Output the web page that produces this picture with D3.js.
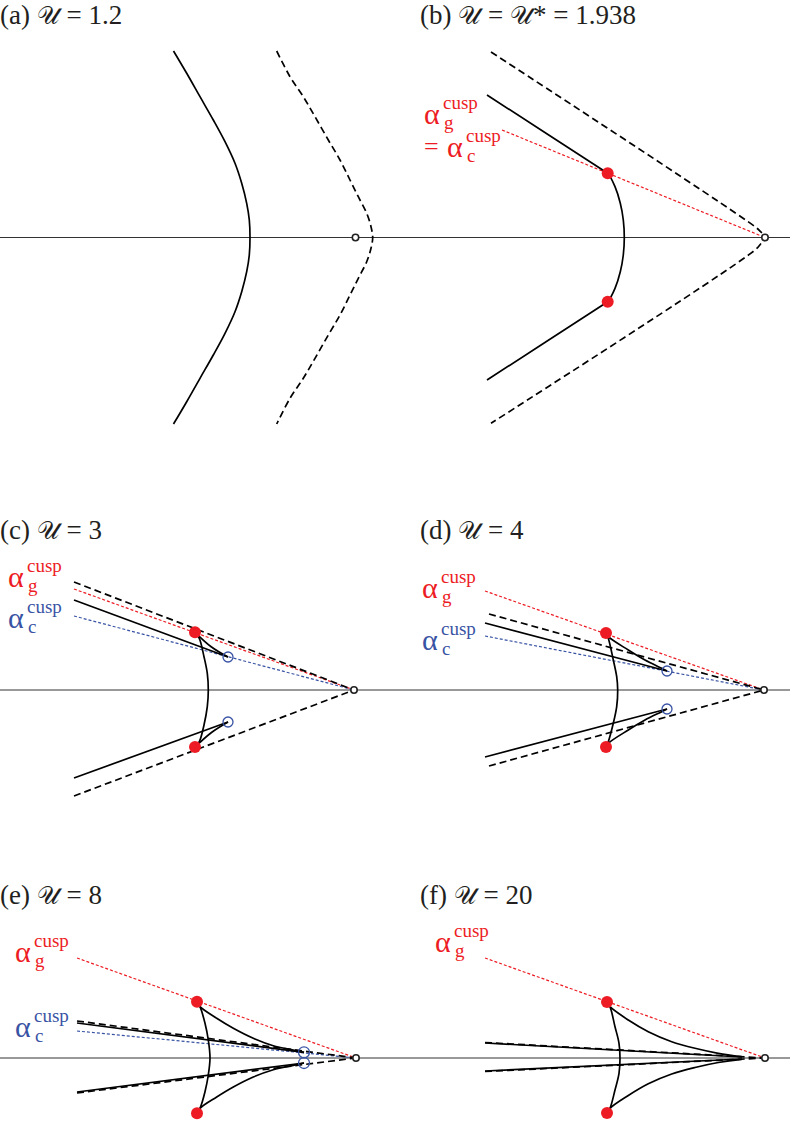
<!doctype html>
<html>
  <head>
    <meta charset="utf-8">
    <title>cusp wavefronts</title>
    <script src="https://d3js.org/d3.v7.min.js"></script>
    <style type="text/css">
      body { margin: 0; background-color: #ffffff; }
    </style>
  </head>
  <body>
    <script>
// panel titles
var titles = ["(a) \u{1D4B0} = 1.2", "(b) \u{1D4B0} = \u{1D4B0}* = 1.938", "(c) \u{1D4B0} = 3",
              "(d) \u{1D4B0} = 4", "(e) \u{1D4B0} = 8", "(f) \u{1D4B0} = 20"];

// all points: x, y relative to the source point (small circle), y up

// (a) U = 1.2
var aSolid = [[-182,186.5],[-168.8,164.2],[-155.5,140.8],[-142.2,117.5],[-130.5,95.8],[-120.5,74.2],[-113.8,54.2],[-108.8,34.2],[-106.2,17.5],[-105.5,0],
              [-106.2,-17.5],[-108.8,-34.2],[-113.8,-54.2],[-120.5,-74.2],[-130.5,-95.8],[-142.2,-117.5],[-155.5,-140.8],[-168.8,-164.2],[-182,-186.5]];
var aDashed = [[-78.8,186.5],[-65.5,160.8],[-52.2,140.8],[-40.5,120.8],[-27.2,97.5],[-15.5,77.5],[-5.5,57.5],[2.8,40.8],[11.2,24.2],[15.5,10.8],[17.2,0],
               [15.5,-10.8],[11.2,-24.2],[2.8,-40.8],[-5.5,-57.5],[-15.5,-77.5],[-27.2,-97.5],[-40.5,-120.8],[-52.2,-140.8],[-65.5,-160.8],[-78.8,-186.5]];

// (b) U = U* = 1.938
var bDashed = [[-274,185.5],[-10,10.8],[-3.5,5],[1.7,0],[-3.5,-5.5],[-10,-12.5],[-274,-185.8]];
var bSolid = [[-278,142.5],[-160,66],[-157.3,64.2],[-150,50.8],[-144.7,34.2],[-141.7,17.5],[-140.7,0],
              [-141.7,-17.5],[-144.7,-34.2],[-150,-50.8],[-157.3,-64.2],[-160,-66],[-278,-142.5]];
var bRedRay = [[-263,107.5],[0,0]];
var bRed = [[-157.3,64.2],[-157.3,-64.2]];

// (c) U = 3
var cDashed = [[[-280,108],[0,0]],[[-280,-106],[0,0]]];
var cRedRay = [[-280,101],[0,0]];
var cBlueRay = [[-280,74],[0,0]];
var cLines = [[[-280,90],[-126,33]],[[-126,-32],[-280,-88]]];
var cCusps = [[[-126,33],[-142.5,43],[-159,57.7]],[[-126,-32],[-142.5,-42.5],[-159,-57]]];
var cArc = [[-159,57.7],[-154.7,51.7],[-150,33.3],[-146.7,16.7],[-145.7,0],[-146.7,-16.7],[-150,-35],[-154.7,-51.7],[-159,-57]];
var cRed = [[-159,57.7],[-159,-57]];
var cBlue = [[-126,33],[-126,-32]];

// (d) U = 4
var dDashed = [[[-275,76],[0,0]],[[-275,-76],[0,0]]];
var dRedRay = [[-279,99],[0,0]];
var dBlueRay = [[-279,54],[0,0]];
var dLines = [[[-279,67],[-97,19]],[[-97,-19],[-279,-67]]];
var dCusps = [[[-97,19],[-102.3,21.7],[-119,30],[-135.7,40],[-155.7,53.3],[-158,57]],
              [[-97,-19],[-102.3,-21.7],[-119,-30],[-135.7,-40],[-155.7,-53.3],[-158,-57]]];
var dArc = [[-158,57],[-155.7,51.7],[-150.7,30],[-147.3,13.3],[-146.3,0],[-147.3,-16.7],[-150.7,-33.3],[-155.7,-51.7],[-158,-57]];
var dRed = [[-158,57],[-158,-57]];
var dBlue = [[-97,19],[-97,-19]];

// (e) U = 8
var eDashed = [[[-279,37],[0,0]],[[-279,-35],[0,0]]];
var eRedRay = [[-279,100],[0,0]];
var eBlueRay = [[-279,27],[0,0]];
var eLines = [[[-279,35],[-52,5.7]],[[-52,-5],[-279,-34]]];
var eCusps = [[[-159,56.3],[-156,51.3],[-139.3,39.7],[-122.7,29.7],[-102.7,19.7],[-82.7,12.3],[-62.7,8],[-52,5.7]],
              [[-159,-55.3],[-156,-50.3],[-139.3,-39],[-122.7,-29],[-102.7,-19],[-82.7,-11.7],[-62.7,-7.3],[-52,-5]]];
var eArc = [[-159,56.3],[-156,51.3],[-151,34.7],[-147.7,18],[-146,0],[-147.7,-17],[-151,-33.7],[-156,-50.3],[-159,-55.3]];
var eRed = [[-159,56.3],[-159,-55.3]];
var eBlue = [[-52,5.7],[-52,-5]];

// (f) U = 20
var fDashed = [[[-280,15.5],[0,0]],[[-280,-13.5],[0,0]]];
var fRedRay = [[-280,100],[0,0]];
var fLines = [[[-280,15],[-23,1]],[[-23,-1],[-280,-13]]];
var fCusps = [[[-158,56],[-155,51.3],[-136.7,38],[-116.7,26.3],[-93.3,16.3],[-70,9.7],[-46.7,4.7],[-23.3,1.3]],
              [[-158,-55],[-155,-50.3],[-136.7,-37.5],[-116.7,-25.8],[-93.3,-16],[-70,-9.5],[-46.7,-4.5],[-23.3,-1.3]]];
var fArc = [[-158,56],[-155,51.3],[-150,31.3],[-146,14.7],[-145,0],[-146,-15.3],[-150,-32],[-155,-50.3],[-158,-55]];
var fRed = [[-158,56],[-158,-55]];

var red = "#ed1c24", blue = "#3953a4", ink = "#231f20";
var serif = "Liberation Serif";

// layout of the six panels
var panels = [
  {x0: 0,   cx: 355.5, cy: 237.5, tx: 0,   ty: 24,
   solid: [aSolid], dashed: [aDashed], redRays: [], blueRays: [], red: [], blue: [], labels: []},
  {x0: 395, cx: 765, cy: 237.5, tx: 420, ty: 24,
   solid: [bSolid], dashed: [bDashed], redRays: [bRedRay], blueRays: [], red: bRed, blue: [],
   labels: [{x: 424, y: 124, sub: "g", c: red}, {x: 447, y: 157, sub: "c", c: red, eq: true}]},
  {x0: 0,   cx: 354, cy: 690, tx: 0,   ty: 539,
   solid: cLines.concat(cCusps, [cArc]), dashed: cDashed, redRays: [cRedRay], blueRays: [cBlueRay], red: cRed, blue: cBlue,
   labels: [{x: 8, y: 587, sub: "g", c: red}, {x: 8, y: 628, sub: "c", c: blue}]},
  {x0: 395, cx: 764, cy: 690, tx: 420, ty: 539,
   solid: dLines.concat(dCusps, [dArc]), dashed: dDashed, redRays: [dRedRay], blueRays: [dBlueRay], red: dRed, blue: dBlue,
   labels: [{x: 422, y: 598, sub: "g", c: red}, {x: 422, y: 650, sub: "c", c: blue}]},
  {x0: 0,   cx: 356, cy: 1058, tx: 0,   ty: 904,
   solid: eLines.concat(eCusps, [eArc]), dashed: eDashed, redRays: [eRedRay], blueRays: [eBlueRay], red: eRed, blue: eBlue, blueR: 5.5,
   labels: [{x: 15, y: 962, sub: "g", c: red}, {x: 15, y: 1037, sub: "c", c: blue}]},
  {x0: 395, cx: 765, cy: 1058, tx: 420, ty: 904,
   solid: fLines.concat(fCusps, [fArc]), dashed: fDashed, redRays: [fRedRay], blueRays: [], red: fRed, blue: [],
   labels: [{x: 435, y: 952, sub: "g", c: red}]}
];

var w = 790, h = 1123;
var svg = d3.select("body").append("svg").attr("width", w).attr("height", h);

panels.forEach(function(p, i) {
  var left = p.cx - p.x0;
  var x = d3.scaleLinear().domain([-left, 395 - left]).range([p.x0, p.x0 + 395]);
  var y = d3.scaleLinear().domain([-200, 200]).range([p.cy + 200, p.cy - 200]);
  var line = d3.line().x(function(d) { return x(d[0]); }).y(function(d) { return y(d[1]); })
    .curve(d3.curveCatmullRom.alpha(0.5));
  var g = svg.append("g");

  // title
  var parts = titles[i].split("\u{1D4B0}");
  var t = g.append("text").attr("x", p.tx).attr("y", p.ty).attr("font-size", 27)
    .attr("font-family", serif).attr("fill", ink);
  parts.forEach(function(s, k) {
    if (k > 0) t.append("tspan").attr("font-size", 25).text("\u{1D4B0}");
    t.append("tspan").attr("font-size", 27).text(s);
  });

  // axis
  g.append("line").attr("x1", p.x0).attr("x2", p.x0 + 395)
    .attr("y1", y(0)).attr("y2", y(0)).attr("stroke", "#333").attr("stroke-width", 1);

  g.selectAll(".ray-r").data(p.redRays).enter().append("path")
    .attr("d", line).attr("fill", "none").attr("stroke", red).attr("stroke-width", 1.2).attr("stroke-dasharray", "3,2");
  g.selectAll(".ray-b").data(p.blueRays).enter().append("path")
    .attr("d", line).attr("fill", "none").attr("stroke", blue).attr("stroke-width", 1.2).attr("stroke-dasharray", "3,2");
  g.selectAll(".dash").data(p.dashed).enter().append("path")
    .attr("d", line).attr("fill", "none").attr("stroke", "#000").attr("stroke-width", 1.7).attr("stroke-dasharray", "7,4");
  g.selectAll(".solid").data(p.solid).enter().append("path")
    .attr("d", line).attr("fill", "none").attr("stroke", "#000").attr("stroke-width", 1.7);

  // source point
  g.append("circle").attr("cx", x(0)).attr("cy", y(0)).attr("r", 3.2)
    .attr("fill", "#fff").attr("stroke", "#222").attr("stroke-width", 1.6);

  g.selectAll(".cb").data(p.blue).enter().append("circle")
    .attr("cx", function(d) { return x(d[0]); }).attr("cy", function(d) { return y(d[1]); })
    .attr("r", p.blueR || 5).attr("fill", "none").attr("stroke", blue).attr("stroke-width", 1.3);
  g.selectAll(".cr").data(p.red).enter().append("circle")
    .attr("cx", function(d) { return x(d[0]); }).attr("cy", function(d) { return y(d[1]); })
    .attr("r", 6).attr("fill", red);

  // alpha labels
  p.labels.forEach(function(l) {
    var lt = g.append("g").attr("font-family", serif).attr("fill", l.c);
    if (l.eq) lt.append("text").attr("x", l.x - 23).attr("y", l.y - 2).attr("font-size", 26).text("=");
    lt.append("text").attr("x", l.x).attr("y", l.y).attr("font-size", 30).text("\u03B1");
    lt.append("text").attr("x", l.x + 19).attr("y", l.y - 15).attr("font-size", 19).text("cusp");
    lt.append("text").attr("x", l.x + 20).attr("y", l.y + 5).attr("font-size", 19).text(l.sub);
  });
});
    </script>
  </body>
</html>
